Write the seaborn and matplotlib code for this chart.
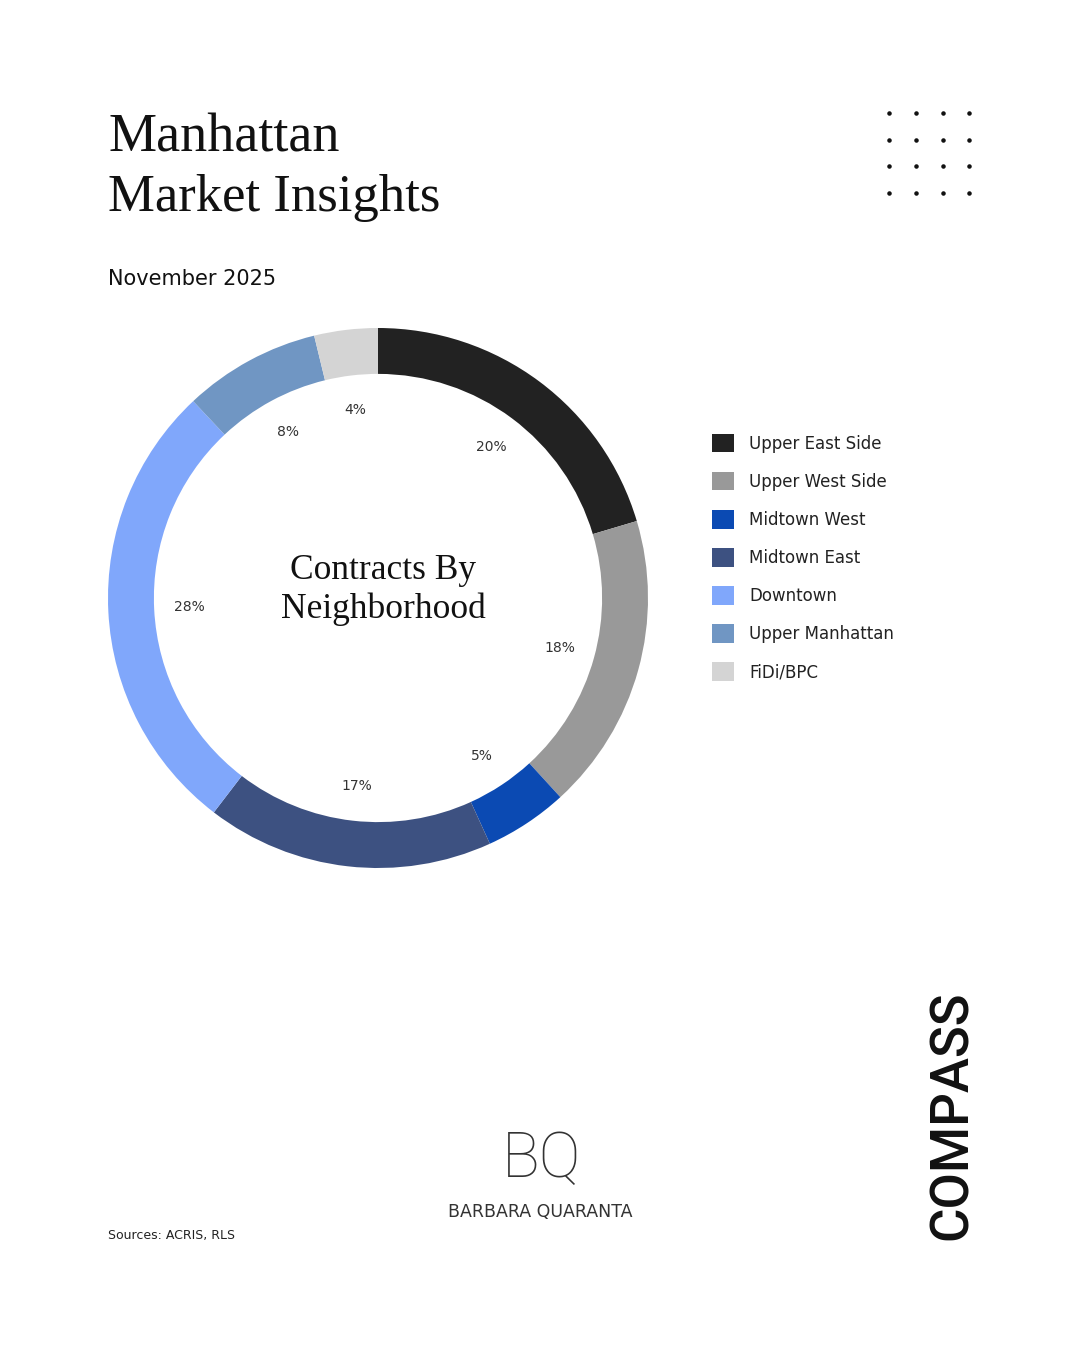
"""Manhattan Market Insights: contracts by neighborhood, November 2025."""

import matplotlib.pyplot as plt
import seaborn as sns
from matplotlib.patches import Patch

neighborhoods = [
    "Upper East Side",
    "Upper West Side",
    "Midtown West",
    "Midtown East",
    "Downtown",
    "Upper Manhattan",
    "FiDi/BPC",
]
share = [20.4, 17.8, 5.0, 17.2, 27.6, 8.2, 3.8]
colors = ["#222222", "#999999", "#0b4ab3", "#3d5181", "#80a7fb", "#7096c3", "#d4d4d4"]

sns.set_theme(style="white")
plt.rcParams["font.family"] = ["DejaVu Sans"]

W, H = 1080, 1350
fig = plt.figure(figsize=(W / 100, H / 100), dpi=100, facecolor="white")

# donut, centre (378, 598), outer radius 270 px
cx, cy, r = 378, 598, 270
ax = fig.add_axes([(cx - r) / W, 1 - (cy + r) / H, 2 * r / W, 2 * r / H])
wedges, _, autotexts = ax.pie(
    share,
    colors=colors,
    startangle=90,
    counterclock=False,
    radius=1,
    autopct="%.0f%%",
    pctdistance=0.70,
    wedgeprops=dict(width=0.17, linewidth=0),
    textprops=dict(fontsize=10, color="#333333"),
)
ax.set_aspect("equal")
ax.set_xlim(-1, 1)
ax.set_ylim(-1, 1)
ax.axis("off")
ax.text(0.02, 0.103, "Contracts By", ha="center", va="center",
        fontsize=25.5, family="Liberation Serif", color="#111111")
ax.text(0.02, -0.042, "Neighborhood", ha="center", va="center",
        fontsize=25.5, family="Liberation Serif", color="#111111")

handles = [Patch(facecolor=c, edgecolor="none") for c in colors]
fig.legend(
    handles,
    neighborhoods,
    loc="upper left",
    bbox_to_anchor=(705 / W, 1 - 427 / H),
    frameon=False,
    fontsize=12,
    handlelength=1.35,
    handleheight=1.35,
    handletextpad=0.9,
    labelspacing=1.15,
    borderaxespad=0,
    labelcolor="#222222",
)

# header
fig.text(108 / W, 1 - 138 / H, "Manhattan", fontsize=39, family="Liberation Serif",
         va="center", ha="left", color="#111111")
fig.text(108 / W, 1 - 198 / H, "Market Insights", fontsize=38, family="Liberation Serif",
         va="center", ha="left", color="#111111")
fig.text(108 / W, 1 - 279 / H, "November 2025", fontsize=15, va="center", ha="left",
         color="#111111")

# dot grid decoration
dot_ax = fig.add_axes([880 / W, 1 - 200 / H, 100 / W, 95 / H])
dot_x = [889, 916, 943, 969]
dot_y = [113, 140, 166, 193]
for yy in dot_y:
    dot_ax.scatter(dot_x, [yy] * 4, s=5, color="#111111")
dot_ax.set_xlim(880, 980)
dot_ax.set_ylim(200, 105)
dot_ax.axis("off")

# footer
fig.text(108 / W, 1 - 1236 / H, "Sources: ACRIS, RLS", fontsize=9, va="center",
         ha="left", color="#222222")
fig.text(541 / W, 1 - 1160 / H, "BQ", fontsize=45, fontweight="light",
         family="Roboto", va="center", ha="center", color="#333333")
fig.text(540 / W, 1 - 1212 / H, "BARBARA QUARANTA", fontsize=12.5, va="center",
         ha="center", color="#333333")
fig.text(952 / W, 1 - 1115 / H, "COMPASS", fontsize=38, fontweight="medium",
         family="Roboto", rotation=90, va="center", ha="center", color="#111111")

fig.savefig("out.png", dpi=100, facecolor="white")
